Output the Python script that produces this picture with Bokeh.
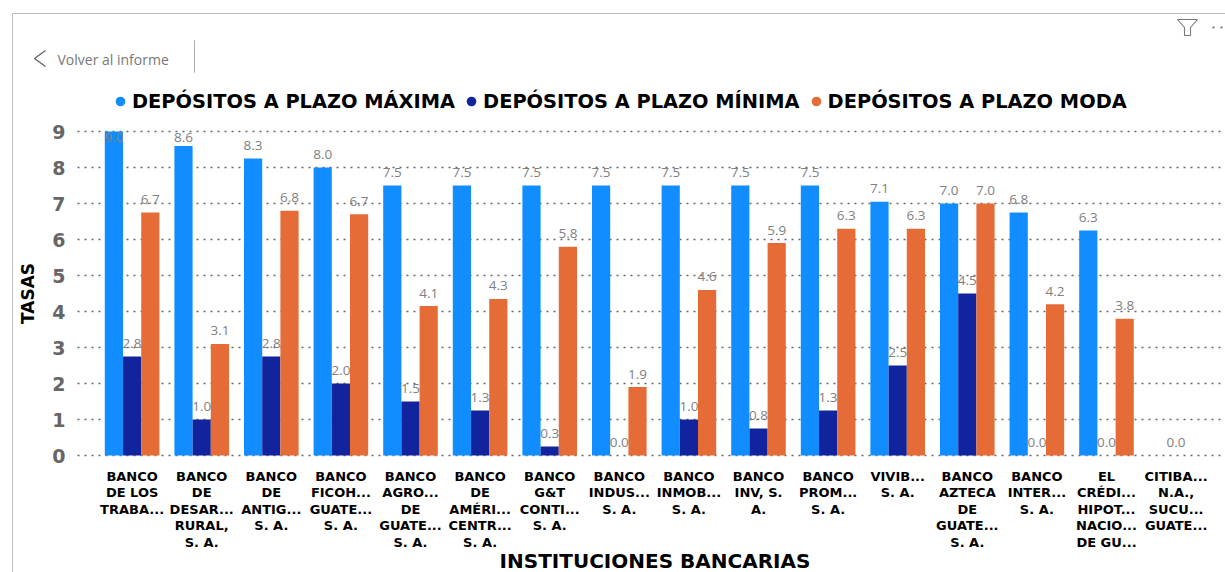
from bokeh.plotting import figure
from bokeh.embed import file_html
from bokeh.resources import INLINE
from bokeh.models import (Range1d, FixedTicker, Legend, LegendItem, Label, PolyAnnotation, BoxAnnotation,
                          ColumnDataSource, LinearAxis, Grid)
from bokeh.core.properties import value

categories = ["BANCO\nDE LOS\nTRABA...", "BANCO\nDE\nDESAR...\nRURAL,\nS. A.", "BANCO\nDE\nANTIG...\nS. A.",
              "BANCO\nFICOH...\nGUATE...\nS. A.", "BANCO\nAGRO...\nDE\nGUATE...\nS. A.",
              "BANCO\nDE\nAMÉRI...\nCENTR...\nS. A.", "BANCO\nG&T\nCONTI...\nS. A.", "BANCO\nINDUS...\nS. A.",
              "BANCO\nINMOB...\nS. A.", "BANCO\nINV, S.\nA.", "BANCO\nPROM...\nS. A.", "VIVIB...\nS. A.",
              "BANCO\nAZTECA\nDE\nGUATE...\nS. A.", "BANCO\nINTER...\nS. A.", "EL\nCRÉDI...\nHIPOT...\nNACIO...\nDE GU...",
              "CITIBA...\nN.A.,\nSUCU...\nGUATE..."]
maxima = [9.0, 8.6, 8.25, 8.0, 7.5, 7.5, 7.5, 7.5, 7.5, 7.5, 7.5, 7.05, 7.0, 6.75, 6.25, None]
minima = [2.75, 1.0, 2.75, 2.0, 1.5, 1.25, 0.25, 0.0, 1.0, 0.75, 1.25, 2.5, 4.5, 0.0, 0.0, 0.0]
moda = [6.75, 3.1, 6.8, 6.7, 4.15, 4.35, 5.8, 1.9, 4.6, 5.9, 6.3, 6.3, 7.0, 4.2, 3.8, None]
max_labels = ["9.0", "8.6", "8.3", "8.0", "7.5", "7.5", "7.5", "7.5", "7.5", "7.5", "7.5", "7.1", "7.0", "6.8", "6.3", ""]
min_labels = ["2.8", "1.0", "2.8", "2.0", "1.5", "1.3", "0.3", "0.0", "1.0", "0.8", "1.3", "2.5", "4.5", "0.0", "0.0", "0.0"]
moda_labels = ["6.7", "3.1", "6.8", "6.7", "4.1", "4.3", "5.8", "1.9", "4.6", "5.9", "6.3", "6.3", "7.0", "4.2", "3.8", ""]
series_names = ["DEPÓSITOS A PLAZO MÁXIMA", "DEPÓSITOS A PLAZO MÍNIMA", "DEPÓSITOS A PLAZO MODA"]
colors = ["#118DFF", "#12239E", "#E66C37"]
y_ticks = list(range(10))

W, H = 1225, 572
PX_PER_CAT, CENTER0 = 69.6, 131.6
PX_PER_UNIT, Y0 = 36.0, 455.0
BAR = 18.2 / PX_PER_CAT
LABEL_CAP = 8.47  # data labels stay inside the plot near its top


def xd(px):
    return (px - CENTER0) / PX_PER_CAT


HEAVY = "DejaVu Sans"

p = figure(width=W, height=H, output_backend="svg", toolbar_location=None,
           x_range=Range1d(xd(0), xd(W)),
           y_range=Range1d((Y0 - H) / PX_PER_UNIT, Y0 / PX_PER_UNIT),
           x_axis_type=None, y_axis_type=None,
           min_border=0, outline_line_color=None, background_fill_color="white", border_fill_color="white")

xs = list(range(len(categories)))
series = [maxima, minima, moda]
label_sets = [max_labels, min_labels, moda_labels]
offsets = [-BAR, 0, BAR]

p.add_layout(Grid(dimension=1, ticker=FixedTicker(ticks=y_ticks), cross_bounds=(xd(77), xd(1225)),
                  grid_line_color="#666666", grid_line_dash="2 5", grid_line_width=1.4, level="underlay"))
# the gridlines start right of the tick labels
p.add_layout(BoxAnnotation(left=0, right=76, top=0, bottom=H, left_units="canvas", right_units="canvas",
                           top_units="canvas", bottom_units="canvas", fill_color="white", fill_alpha=1,
                           line_color=None, level="underlay", editable=False))

for vals, col, off in zip(series, colors, offsets):
    src = ColumnDataSource(dict(x=[i + off for i in xs],
                                top=[float("nan") if v is None else v for v in vals]))
    p.vbar(x="x", top="top", bottom=0, width=BAR, source=src, fill_color=col, line_color=None)

for vals, labs, off in zip(series, label_sets, offsets):
    src = ColumnDataSource(dict(x=[i + off for i in xs],
                                y=[float("nan") if v is None else min(v, LABEL_CAP) for v in vals],
                                lab=labs))
    p.text(x="x", y="y", text="lab", source=src, text_align="center", text_baseline="middle", y_offset=-13,
           text_font=value("Open Sans"), text_font_size="13.5px", text_color="#808080")

yaxis = LinearAxis(ticker=FixedTicker(ticks=y_ticks), fixed_location=xd(77), bounds=(0, 9))
xaxis = LinearAxis(ticker=FixedTicker(ticks=xs), fixed_location=0, bounds=(xd(84), xd(1225)))
p.add_layout(yaxis, "left")
p.add_layout(xaxis, "below")

xaxis.major_label_overrides = {i: c for i, c in enumerate(categories)}
xaxis.major_label_text_font = HEAVY
xaxis.major_label_text_font_style = "bold"
xaxis.major_label_text_font_size = "13px"
xaxis.major_label_text_color = "#000000"
xaxis.major_label_text_line_height = 1.1
xaxis.major_label_standoff = 7
xaxis.axis_label = "INSTITUCIONES BANCARIAS"
xaxis.axis_label_text_font = HEAVY
xaxis.axis_label_text_font_style = "bold"
xaxis.axis_label_text_font_size = "20px"
xaxis.axis_label_text_color = "#000000"
xaxis.axis_label_standoff = -4
yaxis.major_label_text_font = HEAVY
yaxis.major_label_text_font_style = "bold"
yaxis.major_label_text_font_size = "19px"
yaxis.major_label_text_color = "#666666"
yaxis.major_label_standoff = 6
yaxis.axis_label = "TASAS"
yaxis.axis_label_text_font = HEAVY
yaxis.axis_label_text_font_style = "bold"
yaxis.axis_label_text_font_size = "17px"
yaxis.axis_label_text_color = "#000000"
yaxis.axis_label_standoff = 11
for ax in (xaxis, yaxis):
    ax.axis_line_color = None
    ax.major_tick_line_color = None
    ax.minor_tick_line_color = None

items = []
for name, col in zip(series_names, colors):
    r = p.scatter([float("nan")], [float("nan")], marker="circle", size=13, fill_color=col, line_color=None)
    items.append(LegendItem(label=name, renderers=[r]))
lg = Legend(items=items, orientation="horizontal", location=(108, 459), border_line_color=None,
            background_fill_alpha=0, label_text_font=HEAVY, label_text_font_style="bold",
            label_text_font_size="19.4px", label_text_color="#000000", glyph_width=24, glyph_height=24,
            spacing=4, padding=0, margin=0, label_standoff=0)
p.add_layout(lg, "center")


def poly(xs_, ys_, color="#BDBDBD", w=1.0):
    p.add_layout(PolyAnnotation(xs=xs_, ys=ys_, xs_units="canvas", ys_units="canvas", fill_alpha=0,
                                line_color=color, line_alpha=1, line_width=w, editable=False))


poly([12, 1225, 1225, 12], [13, 13, 13, 13])
poly([12, 12, 12], [13, 572, 13])
poly([194, 194, 194], [40, 72, 40], "#AAAAAA")
poly([45, 34, 45, 34], [50, 58, 66, 58], "#666666", 1.4)
poly([1177, 1197, 1190, 1190, 1184, 1184], [19, 19, 27, 35, 35, 27], "#777777", 1.1)
poly([1212, 1214, 1212], [27, 27, 27], "#777777", 2)
poly([1220, 1222, 1220], [27, 27, 27], "#777777", 2)
p.add_layout(Label(x=57, y=59, x_units="canvas", y_units="canvas", text="Volver al informe", text_font="Open Sans",
                   text_font_size="14px", text_color="#777777", text_baseline="middle"))

open("out.html", "w").write(file_html(p, INLINE))
